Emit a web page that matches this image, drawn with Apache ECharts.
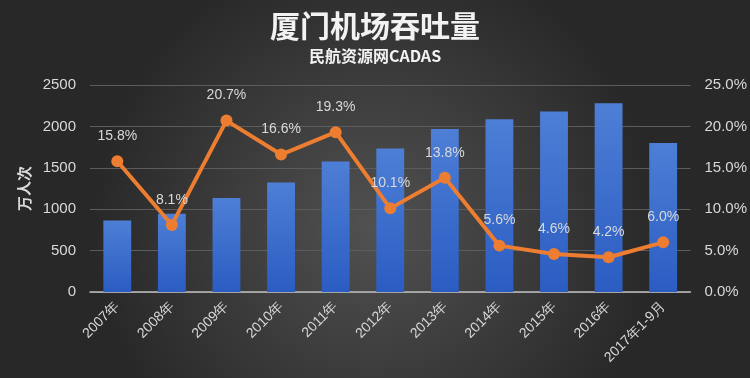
<!DOCTYPE html>
<html>
<head>
<meta charset="utf-8">
<script src="https://cdn.jsdelivr.net/npm/echarts@6/dist/echarts.min.js"></script>
<style>
  html, body { margin: 0; padding: 0; background: #333; }
  #chart { width: 750px; height: 378px; }
</style>
</head>
<body>
<div id="chart"></div>
<script>
  // data
  const categories = ['2007年', '2008年', '2009年', '2010年', '2011年', '2012年', '2013年', '2014年', '2015年', '2016年', '2017年1-9月'];
  const passengers = [865, 944, 1134, 1322, 1575, 1733, 1970, 2087, 2180, 2280, 1801];
  const growth = [15.8, 8.1, 20.7, 16.6, 19.3, 10.1, 13.8, 5.6, 4.6, 4.2, 6.0];

  const labelColor = '#d9d9d9';
  const font = 'Liberation Sans, Arial, sans-serif';

  const chart = echarts.init(document.getElementById('chart'));
  const option = {
    backgroundColor: {
      type: 'radial', x: 0.5, y: 0.6, r: 0.75,
      colorStops: [
        { offset: 0, color: '#515151' },
        { offset: 1, color: '#282828' }
      ]
    },
    title: [
      {
        text: '厦门机场吞吐量',
        left: 'center',
        top: 6,
        textStyle: { color: '#f2f2f2', fontSize: 30, fontWeight: 'bold', fontFamily: 'Noto Sans CJK SC' }
      },
      {
        text: '民航资源网CADAS',
        left: 'center',
        top: 43,
        textStyle: { color: '#f2f2f2', fontSize: 16, fontWeight: 'bold', fontFamily: 'Noto Sans CJK SC' }
      }
    ],
    grid: { left: 90, right: 55, top: 85, bottom: 86, containLabel: false },
    xAxis: {
      type: 'category',
      data: categories,
      axisLine: { lineStyle: { color: '#bfbfbf', width: 1.5 } },
      axisTick: { show: false },
      axisLabel: { color: labelColor, fontSize: 14, rotate: 45, fontFamily: font, margin: 12, interval: 0 }
    },
    yAxis: [
      {
        type: 'value',
        min: 0, max: 2500, interval: 500,
        name: '万人次',
        nameLocation: 'middle',
        nameRotate: 90,
        nameGap: 58,
        nameTextStyle: { color: labelColor, fontSize: 15, fontWeight: 'bold', fontFamily: 'Noto Sans CJK SC' },
        axisLine: { show: false },
        axisTick: { show: false },
        splitLine: { lineStyle: { color: '#5c5c5c' } },
        axisLabel: { color: labelColor, fontSize: 15, fontFamily: font, margin: 14, formatter: v => String(v) }
      },
      {
        type: 'value',
        min: 0, max: 25, interval: 5,
        axisLine: { show: false },
        axisTick: { show: false },
        splitLine: { show: false },
        axisLabel: { color: labelColor, fontSize: 15, fontFamily: font, margin: 14, formatter: v => v.toFixed(1) + '%' }
      }
    ],
    series: [
      {
        name: '吞吐量',
        type: 'bar',
        data: passengers,
        barWidth: '51%',
        itemStyle: {
          color: new echarts.graphic.LinearGradient(0, 0, 0, 1, [
            { offset: 0, color: '#4d7fd6' },
            { offset: 1, color: '#2b5cc2' }
          ])
        }
      },
      {
        name: '增速',
        type: 'line',
        yAxisIndex: 1,
        data: growth,
        symbol: 'circle',
        symbolSize: 12,
        lineStyle: { color: '#ed7d31', width: 4 },
        itemStyle: { color: '#ed7d31' },
        label: {
          show: true,
          position: 'top',
          distance: 12,
          color: labelColor,
          fontSize: 14,
          fontFamily: font,
          formatter: p => p.value.toFixed(1) + '%'
        },
        z: 5
      }
    ]
  };
  chart.setOption(option);
</script>
</body>
</html>
